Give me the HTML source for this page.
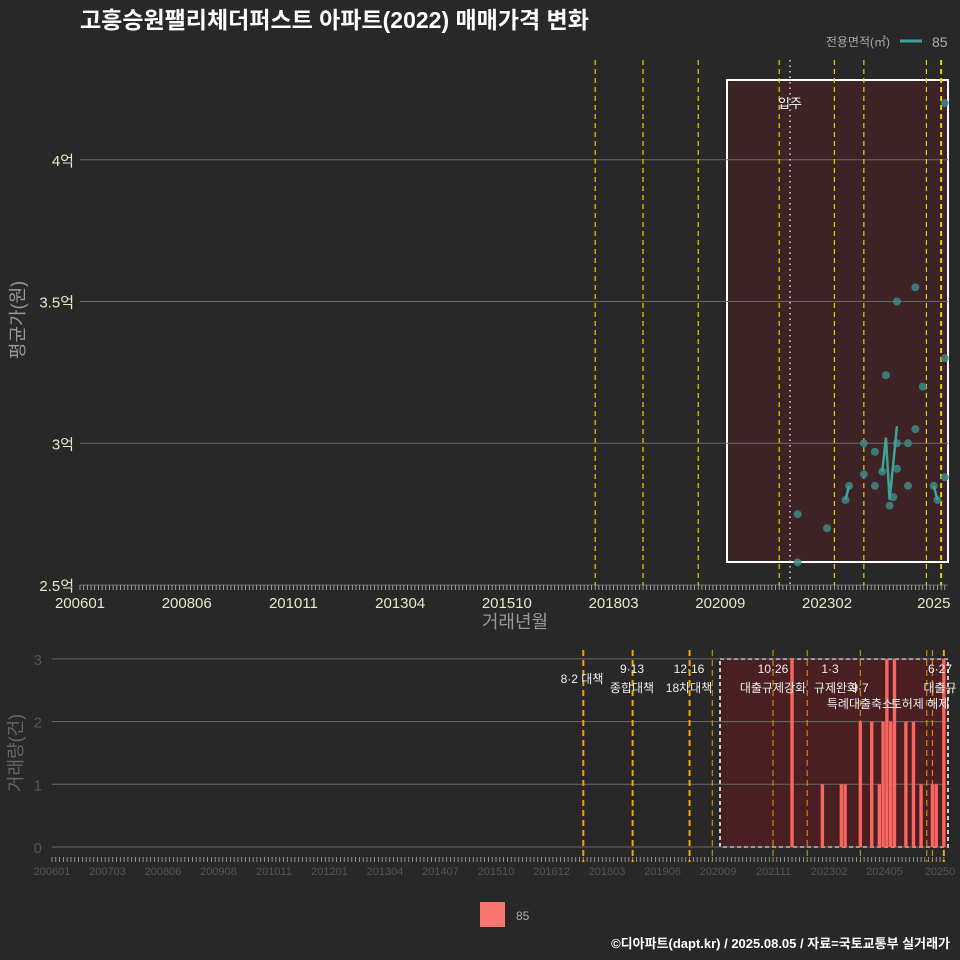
<!DOCTYPE html>
<html><head><meta charset="utf-8">
<style>
body{margin:0;background:#282828;}
svg{display:block;font-family:"Liberation Sans","Noto Sans CJK KR",sans-serif;}
</style></head>
<body>
<svg id="c" width="960" height="960" xmlns="http://www.w3.org/2000/svg">
<rect width="960" height="960" fill="#282828"/>
<text x="80" y="28" font-size="23" font-weight="bold" fill="#ffffff">고흥승원팰리체더퍼스트 아파트(2022) 매매가격 변화</text>
<g>
<text x="890" y="46" font-size="12" fill="#aaaaaa" text-anchor="end">전용면적(㎡)</text>
<line x1="900" y1="41" x2="922" y2="41" stroke="#3fa39a" stroke-width="3"/>
<text x="932" y="47" font-size="14" fill="#aaaaaa">85</text>
</g>
<g id="gtop"></g>
<g id="gbot"></g>
<g>
<rect x="480" y="902" width="25" height="25" fill="#f8766d"/>
<text x="516" y="920" font-size="12" fill="#aaaaaa">85</text>
</g>
<text x="950" y="948" font-size="13" font-weight="bold" fill="#ffffff" text-anchor="end">©디아파트(dapt.kr) / 2025.08.05 / 자료=국토교통부 실거래가</text>
</svg>
<script>
// data (month index from 2006-01)
const priceMonths=[195,195,203,208,209,213,213,216,216,218,219,220,221,222,222,222,225,225,227,227,229,232,233,235,235,235];
const priceValues=[2.75,2.58,2.70,2.80,2.85,3.0,2.89,2.97,2.85,2.90,3.24,2.78,2.81,3.0,2.91,3.5,3.0,2.85,3.05,3.55,3.20,2.85,2.80,3.30,2.88,4.2];
const lineMonths=[208,209,null,218,219,220,222,null,232,233];
const lineValues=[2.80,2.85,null,2.90,3.02,2.80,3.06,null,2.85,2.80];
const volMonths=[195,203,208,209,213,216,218,219,220,221,222,225,227,229,232,233,235];
const volCounts=[3,1,1,1,2,2,1,2,3,2,3,2,2,1,1,1,3];
const topTickLabels=["200601","200806","201011","201304","201510","201803","202009","202302","2025"];
const topTickMonths=[0,29,58,87,116,145,174,203,232];
const yTicks=[2.5,3,3.5,4];
const yTickLabels=["2.5억","3억","3.5억","4억"];
const botTickLabels=["200601","200703","200806","200908","201011","201201","201304","201407","201510","201612","201803","201906","202009","202111","202302","202405","20250"];
const volTicks=[0,1,2,3];
const topEventMonths=[140,153,168,190,205,213,230,234];
const botEventMonths=[140,153,168,174,190,199,213,230.5,232,235];
const NS="http://www.w3.org/2000/svg";
function mk(p,t,a,txt){const e=document.createElementNS(NS,t);for(const k in a)e.setAttribute(k,a[k]);if(txt!=null)e.textContent=txt;p.appendChild(e);return e;}
const xT=m=>80+m*3.68, yT=v=>585-(v-2.5)*283.5;
const xB=m=>52+m*3.795, yB=v=>847-v*62.7;
const gTop=document.getElementById('gtop'), gBot=document.getElementById('gbot');
yTicks.forEach((v,i)=>{
 let t=mk(gTop,'text',{x:74,y:yT(v)+6,'font-size':15,fill:'#e8e8c8','text-anchor':'end'},yTickLabels[i]);
 
 
});
let sh=mk(gTop,'rect',{x:727,y:80,width:221,height:482,fill:'#3d2226',stroke:'#ffffff','stroke-width':2});


yTicks.forEach(v=>{
 let l=mk(gTop,'line',{x1:80,x2:948,y1:yT(v),y2:yT(v),stroke:'#6a6a6a','stroke-width':1});
 
 
});
for(let m=0;m<=235;m++){mk(gTop,'line',{x1:xT(m),x2:xT(m),y1:585,y2:590,stroke:'#bbbbbb','stroke-width':0.8});}
topTickLabels.forEach((s,i)=>{
 let t=mk(gTop,'text',{x:xT(topTickMonths[i]),y:608,'font-size':15,fill:'#e8e8c8','text-anchor':'middle'},s);
 
 
});
let xt=mk(gTop,'text',{x:515,y:628,'font-size':18,fill:'#999999','text-anchor':'middle'},'거래년월');


let yt=mk(gTop,'text',{x:24,y:320,'font-size':18,fill:'#999999','text-anchor':'middle',transform:'rotate(-90 24 320)'},'평균가(원)');


topEventMonths.forEach((m,i)=>{
 let l=mk(gTop,'line',{x1:xT(m),x2:xT(m),y1:60,y2:585,stroke:'#e5d300','stroke-width':i==7?2:1.2,'stroke-dasharray':'5,4'});
 
 
});
let oc=mk(gTop,'line',{x1:790,x2:790,y1:60,y2:585,stroke:'#dddddd','stroke-width':1.5,'stroke-dasharray':'1.5,4'});


let ol=mk(gTop,'text',{x:790,y:108,'font-size':13,fill:'#ffffff','text-anchor':'middle'},'입주');


priceMonths.forEach((m,i)=>{
 let c=mk(gTop,'circle',{cx:xT(m),cy:yT(priceValues[i]),r:4,fill:'#3d8a85','fill-opacity':0.85});
 
 
});
let d='',pen=false;
lineMonths.forEach((m,i)=>{if(m==null){pen=false;return;}d+=(pen?'L':'M')+xT(m)+','+yT(lineValues[i]);pen=true;});
let pl=mk(gTop,'path',{d:d,fill:'none',stroke:'#3fa39a','stroke-width':2.5});


// bottom
let bx=mk(gBot,'rect',{x:720,y:659,width:228,height:188,fill:'#4a1f22',stroke:'#cccccc','stroke-width':2,'stroke-dasharray':'4,3'});


volTicks.forEach(v=>{
 let l=mk(gBot,'line',{x1:52,x2:948,y1:yB(v),y2:yB(v),stroke:'#6a6a6a'});
 
 
 let t=mk(gBot,'text',{x:42,y:yB(v)+6,'font-size':15,fill:'#555555','text-anchor':'end'},String(v));
 
 
});
let vt=mk(gBot,'text',{x:22,y:753,'font-size':18,fill:'#666666','text-anchor':'middle',transform:'rotate(-90 22 753)'},'거래량(건)');


for(let m=0;m<=235;m++){mk(gBot,'line',{x1:xB(m),x2:xB(m),y1:857,y2:862,stroke:'#aaaaaa','stroke-width':0.8});}
botTickLabels.forEach((s,i)=>{
 let t=mk(gBot,'text',{x:52+i*55.5,y:875,'font-size':11,fill:'#555555','text-anchor':'middle'},s);
 
 
});
botEventMonths.forEach((m,i)=>{
 let l=mk(gBot,'line',{x1:xB(m),x2:xB(m),y1:650,y2:862,stroke:i<3||i==9?'#f0a800':'#d08a00','stroke-width':i<3||i==9?2:1.2,'stroke-dasharray':'6,4'});
 
 
});
volMonths.forEach((m,i)=>{
 let r=mk(gBot,'rect',{x:xB(m)-1.7,y:yB(volCounts[i]),width:3.4,height:volCounts[i]*62.7,fill:'#f8665e'});
 
 
});
const ann=[[582,683,'8·2 대책'],[632,673,'9·13'],[632,692,'종합대책'],[689,673,'12·16'],[689,692,'18차대책'],[773,673,'10·26'],[773,692,'대출규제강화'],[830,673,'1·3'],[836,692,'규제완화'],[860,692,'9·7'],[860,708,'특례대출축소'],[920,708,'토허제 해제'],[940,673,'6·27'],[940,692,'대출규']];
ann.forEach(a=>{
 let t=mk(gBot,'text',{x:a[0],y:a[1],'font-size':12,fill:'#eeeeee','text-anchor':'middle'},a[2]);
 
 
});
</script>
</body></html>
